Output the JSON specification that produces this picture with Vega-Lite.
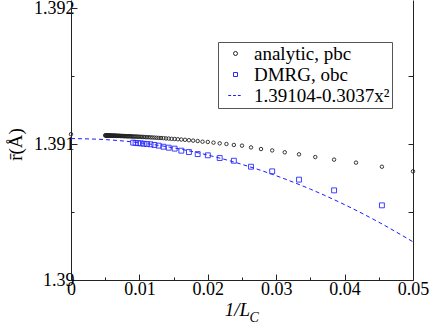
{
  "$schema": "https://vega.github.io/schema/vega-lite/v6.json",
  "autosize": {"type": "none"},
  "padding": {"left": 71, "top": 0, "right": 18, "bottom": 44},
  "width": 342,
  "height": 280,
  "background": "white",
  "config": {
    "view": {"stroke": null},
    "font": "Liberation Serif",
    "legend": {"labelFont": "Liberation Serif", "titleFont": "Liberation Serif"},
    "axis": {"labelFont": "Liberation Serif", "titleFont": "Liberation Serif", "labelFontSize": 18, "titleFontSize": 18, "labelColor": "black", "titleColor": "black", "domainColor": "#222", "tickColor": "#222", "grid": false, "titleFontWeight": "normal"}
  },
  "datasets": {
    "fit": [
      {"x": 0, "y": 1.39104, "series": "1.39104-0.3037x²"},
      {"x": 0.005, "y": 1.3910324, "series": "1.39104-0.3037x²"},
      {"x": 0.01, "y": 1.3910096, "series": "1.39104-0.3037x²"},
      {"x": 0.015, "y": 1.3909717, "series": "1.39104-0.3037x²"},
      {"x": 0.02, "y": 1.3909185, "series": "1.39104-0.3037x²"},
      {"x": 0.025, "y": 1.3908502, "series": "1.39104-0.3037x²"},
      {"x": 0.03, "y": 1.3907667, "series": "1.39104-0.3037x²"},
      {"x": 0.035, "y": 1.390668, "series": "1.39104-0.3037x²"},
      {"x": 0.04, "y": 1.3905541, "series": "1.39104-0.3037x²"},
      {"x": 0.045, "y": 1.390425, "series": "1.39104-0.3037x²"},
      {"x": 0.05, "y": 1.3902808, "series": "1.39104-0.3037x²"}
    ],
    "dmrg": [
      {"x": 0.045455, "y": 1.390549, "series": "DMRG, obc"},
      {"x": 0.038462, "y": 1.390659, "series": "DMRG, obc"},
      {"x": 0.033333, "y": 1.390738, "series": "DMRG, obc"},
      {"x": 0.029412, "y": 1.390799, "series": "DMRG, obc"},
      {"x": 0.026316, "y": 1.390833, "series": "DMRG, obc"},
      {"x": 0.02381, "y": 1.390877, "series": "DMRG, obc"},
      {"x": 0.021739, "y": 1.390897, "series": "DMRG, obc"},
      {"x": 0.02, "y": 1.390917, "series": "DMRG, obc"},
      {"x": 0.018519, "y": 1.390926, "series": "DMRG, obc"},
      {"x": 0.017241, "y": 1.390941, "series": "DMRG, obc"},
      {"x": 0.016129, "y": 1.390951, "series": "DMRG, obc"},
      {"x": 0.015152, "y": 1.390966, "series": "DMRG, obc"},
      {"x": 0.014286, "y": 1.390973, "series": "DMRG, obc"},
      {"x": 0.013514, "y": 1.39098, "series": "DMRG, obc"},
      {"x": 0.012821, "y": 1.390988, "series": "DMRG, obc"},
      {"x": 0.012195, "y": 1.390993, "series": "DMRG, obc"},
      {"x": 0.011628, "y": 1.390998, "series": "DMRG, obc"},
      {"x": 0.011111, "y": 1.391, "series": "DMRG, obc"},
      {"x": 0.010638, "y": 1.391002, "series": "DMRG, obc"},
      {"x": 0.010204, "y": 1.391005, "series": "DMRG, obc"},
      {"x": 0.009804, "y": 1.391006, "series": "DMRG, obc"},
      {"x": 0.009434, "y": 1.391008, "series": "DMRG, obc"},
      {"x": 0.009091, "y": 1.39101, "series": "DMRG, obc"}
    ],
    "analytic": [
      {"x": 0, "y": 1.391072, "series": "analytic, pbc"},
      {"x": 0.05, "y": 1.390799, "series": "analytic, pbc"},
      {"x": 0.045455, "y": 1.390833, "series": "analytic, pbc"},
      {"x": 0.041667, "y": 1.390863, "series": "analytic, pbc"},
      {"x": 0.038462, "y": 1.390885, "series": "analytic, pbc"},
      {"x": 0.035714, "y": 1.390904, "series": "analytic, pbc"},
      {"x": 0.033333, "y": 1.390924, "series": "analytic, pbc"},
      {"x": 0.03125, "y": 1.390939, "series": "analytic, pbc"},
      {"x": 0.029412, "y": 1.390953, "series": "analytic, pbc"},
      {"x": 0.027778, "y": 1.390963, "series": "analytic, pbc"},
      {"x": 0.026316, "y": 1.390975, "series": "analytic, pbc"},
      {"x": 0.025, "y": 1.390988, "series": "analytic, pbc"},
      {"x": 0.02381, "y": 1.390993, "series": "analytic, pbc"},
      {"x": 0.022727, "y": 1.391, "series": "analytic, pbc"},
      {"x": 0.021739, "y": 1.391005, "series": "analytic, pbc"},
      {"x": 0.020833, "y": 1.39101, "series": "analytic, pbc"},
      {"x": 0.02, "y": 1.391015, "series": "analytic, pbc"},
      {"x": 0.019231, "y": 1.391017, "series": "analytic, pbc"},
      {"x": 0.018519, "y": 1.391022, "series": "analytic, pbc"},
      {"x": 0.017857, "y": 1.391025, "series": "analytic, pbc"},
      {"x": 0.017241, "y": 1.391028, "series": "analytic, pbc"},
      {"x": 0.016667, "y": 1.391031, "series": "analytic, pbc"},
      {"x": 0.016129, "y": 1.391033, "series": "analytic, pbc"},
      {"x": 0.015625, "y": 1.391035, "series": "analytic, pbc"},
      {"x": 0.015152, "y": 1.391037, "series": "analytic, pbc"},
      {"x": 0.014706, "y": 1.391038, "series": "analytic, pbc"},
      {"x": 0.014286, "y": 1.39104, "series": "analytic, pbc"},
      {"x": 0.013889, "y": 1.391041, "series": "analytic, pbc"},
      {"x": 0.013514, "y": 1.391043, "series": "analytic, pbc"},
      {"x": 0.013158, "y": 1.391044, "series": "analytic, pbc"},
      {"x": 0.012821, "y": 1.391045, "series": "analytic, pbc"},
      {"x": 0.0125, "y": 1.391046, "series": "analytic, pbc"},
      {"x": 0.012195, "y": 1.391047, "series": "analytic, pbc"},
      {"x": 0.011905, "y": 1.391048, "series": "analytic, pbc"},
      {"x": 0.011628, "y": 1.391049, "series": "analytic, pbc"},
      {"x": 0.011364, "y": 1.39105, "series": "analytic, pbc"},
      {"x": 0.011111, "y": 1.39105, "series": "analytic, pbc"},
      {"x": 0.01087, "y": 1.391051, "series": "analytic, pbc"},
      {"x": 0.010638, "y": 1.391052, "series": "analytic, pbc"},
      {"x": 0.010417, "y": 1.391052, "series": "analytic, pbc"},
      {"x": 0.010204, "y": 1.391053, "series": "analytic, pbc"},
      {"x": 0.01, "y": 1.391053, "series": "analytic, pbc"},
      {"x": 0.009804, "y": 1.391054, "series": "analytic, pbc"},
      {"x": 0.009615, "y": 1.391054, "series": "analytic, pbc"},
      {"x": 0.009434, "y": 1.391055, "series": "analytic, pbc"},
      {"x": 0.009259, "y": 1.391055, "series": "analytic, pbc"},
      {"x": 0.009091, "y": 1.391055, "series": "analytic, pbc"},
      {"x": 0.008929, "y": 1.391056, "series": "analytic, pbc"},
      {"x": 0.008772, "y": 1.391056, "series": "analytic, pbc"},
      {"x": 0.008621, "y": 1.391057, "series": "analytic, pbc"},
      {"x": 0.008475, "y": 1.391057, "series": "analytic, pbc"},
      {"x": 0.008333, "y": 1.391057, "series": "analytic, pbc"},
      {"x": 0.008197, "y": 1.391057, "series": "analytic, pbc"},
      {"x": 0.008065, "y": 1.391058, "series": "analytic, pbc"},
      {"x": 0.007937, "y": 1.391058, "series": "analytic, pbc"},
      {"x": 0.007813, "y": 1.391058, "series": "analytic, pbc"},
      {"x": 0.007692, "y": 1.391058, "series": "analytic, pbc"},
      {"x": 0.007576, "y": 1.391059, "series": "analytic, pbc"},
      {"x": 0.007463, "y": 1.391059, "series": "analytic, pbc"},
      {"x": 0.007353, "y": 1.391059, "series": "analytic, pbc"},
      {"x": 0.007246, "y": 1.391059, "series": "analytic, pbc"},
      {"x": 0.007143, "y": 1.39106, "series": "analytic, pbc"},
      {"x": 0.007042, "y": 1.39106, "series": "analytic, pbc"},
      {"x": 0.006944, "y": 1.39106, "series": "analytic, pbc"},
      {"x": 0.006849, "y": 1.39106, "series": "analytic, pbc"},
      {"x": 0.006757, "y": 1.39106, "series": "analytic, pbc"},
      {"x": 0.006667, "y": 1.39106, "series": "analytic, pbc"},
      {"x": 0.006579, "y": 1.391061, "series": "analytic, pbc"},
      {"x": 0.006494, "y": 1.391061, "series": "analytic, pbc"},
      {"x": 0.00641, "y": 1.391061, "series": "analytic, pbc"},
      {"x": 0.006329, "y": 1.391061, "series": "analytic, pbc"},
      {"x": 0.00625, "y": 1.391061, "series": "analytic, pbc"},
      {"x": 0.006173, "y": 1.391061, "series": "analytic, pbc"},
      {"x": 0.006098, "y": 1.391061, "series": "analytic, pbc"},
      {"x": 0.006024, "y": 1.391061, "series": "analytic, pbc"},
      {"x": 0.005952, "y": 1.391061, "series": "analytic, pbc"},
      {"x": 0.005882, "y": 1.391062, "series": "analytic, pbc"},
      {"x": 0.005814, "y": 1.391062, "series": "analytic, pbc"},
      {"x": 0.005747, "y": 1.391062, "series": "analytic, pbc"},
      {"x": 0.005682, "y": 1.391062, "series": "analytic, pbc"},
      {"x": 0.005618, "y": 1.391062, "series": "analytic, pbc"},
      {"x": 0.005556, "y": 1.391062, "series": "analytic, pbc"},
      {"x": 0.005495, "y": 1.391062, "series": "analytic, pbc"},
      {"x": 0.005435, "y": 1.391062, "series": "analytic, pbc"},
      {"x": 0.005376, "y": 1.391062, "series": "analytic, pbc"},
      {"x": 0.005319, "y": 1.391062, "series": "analytic, pbc"},
      {"x": 0.005263, "y": 1.391062, "series": "analytic, pbc"},
      {"x": 0.005208, "y": 1.391062, "series": "analytic, pbc"},
      {"x": 0.005155, "y": 1.391063, "series": "analytic, pbc"},
      {"x": 0.005102, "y": 1.391063, "series": "analytic, pbc"},
      {"x": 0.005051, "y": 1.391063, "series": "analytic, pbc"},
      {"x": 0.005, "y": 1.391063, "series": "analytic, pbc"}
    ]
  },
  "resolve": {"axis": {"x": "independent", "y": "independent"}},
  "layer": [
    {
      "data": {"name": "fit"},
      "mark": {"type": "line", "color": "#1a1aff", "strokeWidth": 1, "strokeDash": [4, 3], "interpolate": "monotone", "clip": true},
      "encoding": {
        "x": {"field": "x", "type": "quantitative",
          "scale": {"domain": [0, 0.05], "nice": false, "zero": false},
          "axis": {"orient": "bottom", "values": [0, 0.01, 0.02, 0.03, 0.04, 0.05], "format": "~g", "tickSize": -6, "labelPadding": 6, "labelFlush": false, "labelOverlap": false,
            "title": "1/L", "titleFontStyle": "italic", "titleX": 166, "titleY": 35, "titleAlign": "center", "titleBaseline": "alphabetic", "titleFontSize": 19}},
        "y": {"field": "y", "type": "quantitative",
          "scale": {"domain": [1.39, 1.392059], "nice": false, "zero": false},
          "axis": {"orient": "left", "values": [1.39, 1.391, 1.392], "format": "~g", "tickSize": -6, "labelPadding": 3, "labelFlush": false, "labelOverlap": false,
            "title": "r̄(Å)", "titleX": -56, "titleY": 144, "titleAngle": 270, "titleAlign": "center", "titleBaseline": "middle", "titleFontSize": 19}}
      }
    },
    {
      "data": {"name": "analytic"},
      "mark": {"type": "point", "shape": "circle", "filled": false, "size": 12, "strokeWidth": 0.9, "opacity": 1},
      "encoding": {
        "x": {"field": "x", "type": "quantitative",
          "axis": {"orient": "bottom", "values": [0.005, 0.015, 0.025, 0.035, 0.045], "labels": false, "domain": false, "tickSize": -3,
            "title": "C", "titleFontStyle": "italic", "titleFontSize": 14, "titleX": 178, "titleY": 41, "titleAlign": "left", "titleBaseline": "alphabetic"}},
        "y": {"field": "y", "type": "quantitative",
          "axis": {"orient": "left", "values": [1.3905, 1.3915], "labels": false, "domain": false, "tickSize": -3, "title": null}},
        "color": {"field": "series", "type": "nominal",
          "scale": {"domain": ["analytic, pbc", "DMRG, obc", "1.39104-0.3037x²"], "range": ["#222222", "#2a2aff", "#1a1aff"]},
          "legend": {"orient": "none", "legendX": 147, "legendY": 42, "title": null, "labelFontSize": 19, "labelColor": "black",
            "symbolSize": 16, "symbolStrokeWidth": 1, "symbolFillColor": "transparent", "padding": 2, "rowPadding": 1, "labelOffset": 9, "strokeColor": "#555", "fillColor": "white", "offset": 0, "symbolOffset": 6, "labelLimit": 200}},
        "shape": {"field": "series", "type": "nominal",
          "scale": {"domain": ["analytic, pbc", "DMRG, obc", "1.39104-0.3037x²"], "range": ["circle", "square", "M-3.6,0H-2.2M-1.2,0H0.2M1.2,0H2.6"]},
          "legend": {"orient": "none", "legendX": 147, "legendY": 42, "title": null, "labelFontSize": 19, "labelColor": "black",
            "symbolSize": 16, "symbolStrokeWidth": 1, "symbolFillColor": "transparent", "padding": 2, "rowPadding": 1, "labelOffset": 9, "strokeColor": "#555", "fillColor": "white", "offset": 0, "symbolOffset": 6, "labelLimit": 200}}
      }
    },
    {
      "data": {"name": "dmrg"},
      "mark": {"type": "point", "filled": false, "size": 24, "strokeWidth": 0.9, "opacity": 1},
      "encoding": {
        "x": {"field": "x", "type": "quantitative", "axis": null},
        "y": {"field": "y", "type": "quantitative",
          "axis": {"orient": "right", "values": [1.3905, 1.391, 1.3915], "labels": false, "tickSize": -5, "title": null}},
        "color": {"field": "series", "type": "nominal"},
        "shape": {"field": "series", "type": "nominal"}
      }
    }
  ]
}
